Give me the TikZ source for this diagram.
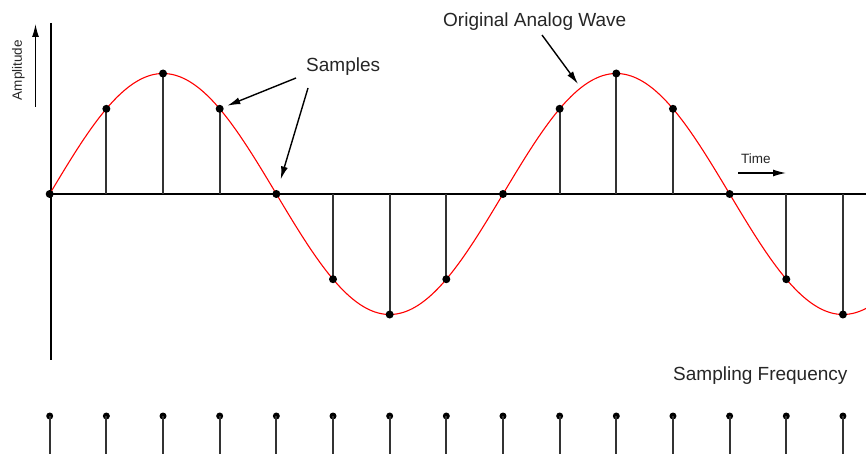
\documentclass[tikz,border=0pt]{standalone}
\usepackage{fontspec}
\setmainfont{Liberation Sans}
\usetikzlibrary{arrows.meta}
\begin{document}
\begin{tikzpicture}[x=1pt,y=-1pt,
  axisline/.style={line width=1.4pt,black},
  stemline/.style={line width=1.8pt,black!80},
  wave/.style={line width=1.1pt,red},
  dot/.style={circle,fill=black,inner sep=0pt,minimum size=8pt},
  arr/.style={line width=1.4pt,black,-{Latex[length=13pt,width=7pt]}},
  biglabel/.style={text=black!85,font=\fontsize{19}{22}\selectfont,inner sep=0pt},
  smalllabel/.style={text=black!85,font=\fontsize{13.5}{16}\selectfont,inner sep=0pt}]
\useasboundingbox (0,0) rectangle (866,454);
\fill[white] (0,0) rectangle (866,454);
% axes
\coordinate (xa0) at (47,194);
\coordinate (xa1) at (866,194);
\coordinate (ya0) at (51,23);
\coordinate (ya1) at (51,360);
\draw[axisline] (xa0) -- (xa1);
\draw[axisline] (ya0) -- (ya1);
% amplitude arrow and label
\coordinate (am0) at (35.5,107);
\coordinate (am1) at (35.5,24);
\draw[arr] (am0) -- (am1);
\node[smalllabel,rotate=90] (amp) at (18.5,70) {Amplitude};
% stems
\foreach \k in {0,...,14}{
  \pgfmathsetmacro{\xx}{49.7+56.66*\k}
  \pgfmathsetmacro{\yy}{194-120.5*sin(45*\k)}
  \coordinate (b\k) at (\xx,194);
  \coordinate (p\k) at (\xx,\yy);
  \coordinate (q\k) at (\xx,416);
  \coordinate (r\k) at (\xx,456);
}
\foreach \k in {1,2,3,5,6,7,9,10,11,13,14}{
  \draw[stemline] (b\k) -- (p\k);
}
% wave
\draw[wave] plot[domain=49.7:866,samples=300,variable=\t]
  (\t,{194-120.5*sin(0.794176*(\t-49.7))});
% sample dots
\foreach \k in {0,...,14}{
  \node[dot] (s\k) at (p\k) {};
}
% sampling pulses
\foreach \k in {0,...,14}{
  \node[dot,minimum size=7pt] (f\k) at (q\k) {};
  \draw[stemline] (f\k.center) -- (r\k);
}
% labels
\node[biglabel,anchor=west] (samples) at (306,67) {Samples};
\coordinate (sa1) at (296,78);
\coordinate (sa2) at (308,88);
\draw[arr,shorten >=4pt] (sa1) -- (s3);
\draw[arr,shorten >=11pt] (sa2) -- (s4);
\node[biglabel,anchor=west] (orig) at (443,22) {Original Analog Wave};
\coordinate (ow0) at (542,35);
\coordinate (ow1) at (578,84);
\draw[arr] (ow0) -- (ow1);
\node[smalllabel,anchor=west] (time) at (741,159) {Time};
\coordinate (t0) at (738,173);
\coordinate (t1) at (786,173);
\draw[arr] (t0) -- (t1);
\node[biglabel,anchor=west] (sf) at (673,376) {Sampling Frequency};
\end{tikzpicture}
\end{document}
